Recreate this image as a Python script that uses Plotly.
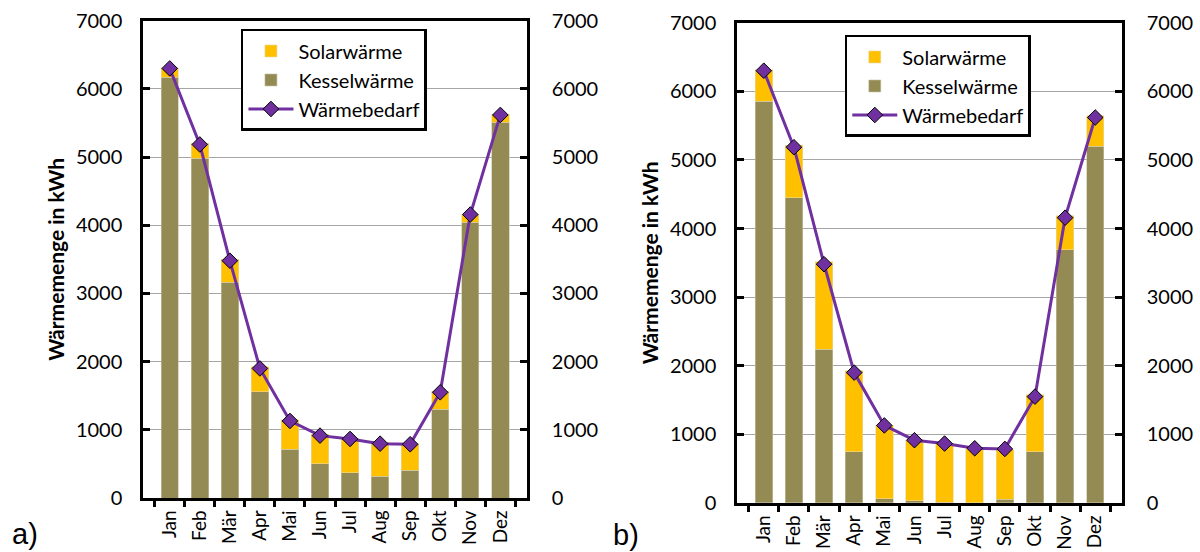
import plotly.graph_objects as go

months = ["Jan", "Feb", "Mär", "Apr", "Mai", "Jun", "Jul", "Aug", "Sep", "Okt", "Nov", "Dez"]
demand = [6300, 5185, 3480, 1900, 1130, 915, 866, 797, 788, 1550, 4158, 5618]
a_kessel = [6170, 4985, 3166, 1555, 713, 501, 367, 320, 408, 1302, 4045, 5511]
a_solar = [140, 215, 339, 372, 434, 434, 511, 491, 387, 263, 118, 114]
b_kessel = [5857, 4452, 2242, 749, 62, 36, 8, 4, 52, 744, 3693, 5201]
b_solar = [455, 760, 1276, 1178, 1074, 883, 860, 781, 723, 837, 491, 439]
y_ticks = [0, 1000, 2000, 3000, 4000, 5000, 6000, 7000]

SOLAR = "#FFC000"
KESSEL = "#948A54"
PURPLE = "#7030A0"
FONT = "Lato"

fig = go.Figure()

def add_panel(xa, ya, ya2, kessel, solar, leg):
    fig.add_trace(go.Bar(x=months, y=kessel, name="Kesselwärme", xaxis=xa, yaxis=ya,
                         marker=dict(color=KESSEL, line=dict(color="#C8C3A6", width=0.6)),
                         legend=leg, legendrank=2))
    fig.add_trace(go.Bar(x=months, y=solar, name="Solarwärme", xaxis=xa, yaxis=ya,
                         marker=dict(color=SOLAR, line=dict(color="#E8D9A0", width=0.6)),
                         legend=leg, legendrank=1))
    fig.add_trace(go.Scatter(x=months, y=demand, name="Wärmebedarf", xaxis=xa, yaxis=ya2,
                             mode="lines+markers",
                             line=dict(color=PURPLE, width=3),
                             marker=dict(symbol="diamond", size=12, color=PURPLE,
                                         line=dict(color="black", width=1)),
                             legend=leg, legendrank=3))

add_panel("x", "y", "y2", a_kessel, a_solar, "legend")
add_panel("x2", "y3", "y4", b_kessel, b_solar, "legend2")

tickfont = dict(family=FONT, size=20, color="black")

def xaxis(domain, anchor):
    return dict(domain=domain, anchor=anchor, type="category", tickangle=-90,
                tickfont=dict(family=FONT, size=19, color="black"),
                showline=True, linecolor="black", linewidth=2.5,
                mirror=True, ticks="outside", tickson="boundaries", ticklen=6,
                tickwidth=2.5, tickcolor="black", ticklabelstandoff=2, showgrid=False,
                automargin=False)

def yaxis(domain, anchor):
    return dict(domain=domain, anchor=anchor, range=[0, 7000], tickvals=y_ticks,
                tickfont=tickfont, showline=True, linecolor="black", linewidth=2.5,
                ticks="inside", ticklen=7, tickwidth=2.5, tickcolor="black",
                showgrid=True, gridcolor="#A6A6A6", gridwidth=1, zeroline=False,
                ticklabelstandoff=14, automargin=False,
                title=dict(text="<b>Wärmemenge in kWh</b>",
                           font=dict(family=FONT, size=21, color="black"), standoff=6))

def yaxis_right(overlay, anchor):
    return dict(overlaying=overlay, anchor=anchor, side="right", range=[0, 7000],
                tickvals=y_ticks, tickfont=tickfont, showline=True, linecolor="black",
                linewidth=2.5, ticks="inside", ticklen=7, tickwidth=2.5, tickcolor="black",
                showgrid=False, zeroline=False, ticklabelstandoff=18, automargin=False)

legend_style = dict(font=dict(family=FONT, size=20, color="black"), bgcolor="white",
                    bordercolor="black", borderwidth=2.5, xanchor="left", yanchor="top",
                    traceorder="normal", itemwidth=45)

fig.update_layout(
    width=1200, height=552,
    margin=dict(l=0, r=0, t=0, b=0, pad=0, autoexpand=False),
    paper_bgcolor="white", plot_bgcolor="white",
    barmode="stack", bargap=0.42,
    xaxis=xaxis([0.1192, 0.4392], "y"),
    yaxis=yaxis([0.0978, 0.9625], "x"),
    yaxis2=yaxis_right("y", "x"),
    xaxis2=xaxis([0.6142, 0.935], "y3"),
    yaxis3=yaxis([0.0888, 0.9589], "x2"),
    yaxis4=yaxis_right("y3", "x2"),
    legend=dict(x=0.2008, y=0.9475, **legend_style),
    legend2=dict(x=0.704, y=0.9366, **legend_style),
    annotations=[
        dict(text="a)", x=0.008, y=0.032, xref="paper", yref="paper", xanchor="left",
             yanchor="middle", showarrow=False,
             font=dict(family="Liberation Sans", size=29, color="black")),
        dict(text="b)", x=0.509, y=0.031, xref="paper", yref="paper", xanchor="left",
             yanchor="middle", showarrow=False,
             font=dict(family="Liberation Sans", size=29, color="black")),
    ],
    showlegend=True,
)

fig.write_html("out.html", config={"displayModeBar": False},
               post_script="document.body.style.margin='0';document.body.style.overflow='hidden';")
